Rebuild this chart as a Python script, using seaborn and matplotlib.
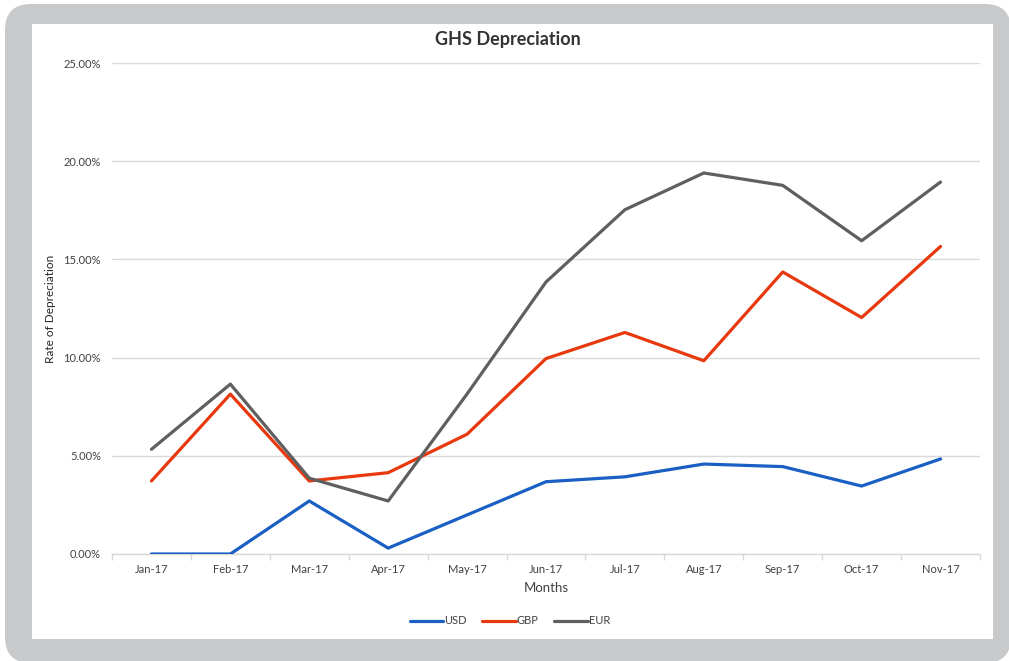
import matplotlib
matplotlib.use("Agg")
import matplotlib.pyplot as plt
from matplotlib.patches import FancyBboxPatch
from matplotlib.transforms import IdentityTransform
from matplotlib.ticker import FuncFormatter, FixedLocator
import seaborn as sns
import pandas as pd

months = ["Jan-17", "Feb-17", "Mar-17", "Apr-17", "May-17", "Jun-17",
          "Jul-17", "Aug-17", "Sep-17", "Oct-17", "Nov-17"]
usd = [0.00, 0.00, 2.70, 0.30, 1.99, 3.68, 3.93, 4.58, 4.45, 3.46, 4.84]
gbp = [3.72, 8.14, 3.72, 4.14, 6.10, 9.95, 11.28, 9.84, 14.36, 12.04, 15.66]
eur = [5.33, 8.65, 3.86, 2.70, 8.15, 13.85, 17.53, 19.40, 18.77, 15.95, 18.94]
currencies = ["USD", "GBP", "EUR"]
colors = {"USD": "#1a5fc4", "GBP": "#e8380e", "EUR": "#5f5f5f"}

df = pd.DataFrame({
    "Months": months * 3,
    "Rate": [v / 100 for v in usd + gbp + eur],
    "Currency": sum([[c] * len(months) for c in currencies], []),
})

sns.set_theme(style="white")
plt.rcParams["font.family"] = ["Lato", "DejaVu Sans"]

W, H = 1009, 661
fig = plt.figure(figsize=(W / 100, H / 100), dpi=100)
fig.patch.set_facecolor("white")

# grey rounded frame and white chart area (pixel coordinates)
frame = FancyBboxPatch((5, -2), W - 3, H - 2,
                       boxstyle="round,pad=0,rounding_size=26",
                       transform=IdentityTransform(), facecolor="#c8c9cb",
                       edgecolor="none", zorder=0)
fig.add_artist(frame)
inner = FancyBboxPatch((32, H - 639), 993 - 32, 639 - 24,
                       boxstyle="square,pad=0",
                       transform=IdentityTransform(), facecolor="white",
                       edgecolor="none", zorder=0)
fig.add_artist(inner)

left, right = 112 / W, 980 / W
bottom, top = 1 - 554 / H, 1 - 63 / H
ax = fig.add_axes([left, bottom, right - left, top - bottom])
ax.set_facecolor("none")

sns.lineplot(data=df, x="Months", y="Rate", hue="Currency",
             hue_order=currencies, palette=colors, linewidth=2.3,
             sort=False, legend=True, ax=ax, zorder=3)

ax.set_ylim(0, 0.25)
ax.set_xlim(-0.5, len(months) - 0.5)
ax.set_yticks([0, 0.05, 0.10, 0.15, 0.20, 0.25])
ax.yaxis.set_major_formatter(FuncFormatter(lambda v, _: f"{v * 100:.2f}%"))
ax.grid(axis="y", color="#d9d9d9", linewidth=1.0)
ax.grid(axis="x", visible=False)
for side in ["top", "right", "left"]:
    ax.spines[side].set_visible(False)
ax.spines["bottom"].set_color("#d9d9d9")
ax.spines["bottom"].set_linewidth(1.0)

# tick marks between categories on the x axis
ax.xaxis.set_minor_locator(FixedLocator([i - 0.5 for i in range(len(months) + 1)]))
ax.tick_params(axis="x", which="minor", bottom=True, length=4, width=1,
               color="#d9d9d9")
ax.tick_params(axis="x", which="major", bottom=False, length=0, labelsize=8,
               labelcolor="#404040", pad=7)
ax.tick_params(axis="y", which="major", left=False, length=0, labelsize=8,
               labelcolor="#404040", pad=8)

ax.set_xlabel("Months", fontsize=9.5, color="#404040", labelpad=5)
ax.set_ylabel("Rate of Depreciation", fontsize=8.5, color="#262626",
              labelpad=5)

fig.text(508 / W, 1 - 40 / H, "GHS Depreciation", ha="center", va="center",
         fontsize=13, fontweight="bold", color="#333333")

handles, labels = ax.get_legend_handles_labels()
ax.legend_.remove()
fig.legend(handles, labels, loc="center", bbox_to_anchor=(510 / W, 1 - 621 / H),
           ncol=3, frameon=False, fontsize=8, handlelength=3.0,
           handletextpad=0.1, columnspacing=1.4, labelcolor="#404040")

fig.savefig("out.png", dpi=100)
